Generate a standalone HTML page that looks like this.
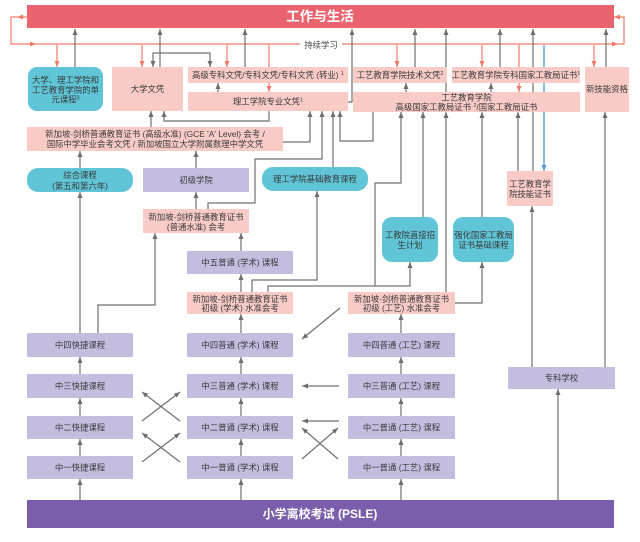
<!DOCTYPE html>
<html><head><meta charset="utf-8">
<style>
html,body{margin:0;padding:0;background:#fff;}
svg{display:block;}
text{font-family:"Liberation Sans","Noto Sans CJK SC",sans-serif;font-size:8.4px;fill:#3a3a3a;text-anchor:middle;}
.w{fill:#fff;font-weight:bold;}
.gl path{stroke:#707070;stroke-width:1.2;fill:none;}
.ol path{stroke:#f27a6a;stroke-width:1.2;fill:none;}
.pk{fill:#f9cbc7;}
.tl{fill:#5fc5d7;}
.pu{fill:#c5bde0;}
</style></head><body>
<svg width="640" height="542" viewBox="0 0 640 542" xmlns="http://www.w3.org/2000/svg">
<defs>
<marker id="g" viewBox="0 0 12 10" refX="12" refY="5" markerWidth="6" markerHeight="5" markerUnits="userSpaceOnUse" orient="auto"><path d="M0,0L12,5L0,10z" fill="#6e6e6e"/></marker>
<marker id="o" viewBox="0 0 12 10" refX="12" refY="5" markerWidth="6" markerHeight="5" markerUnits="userSpaceOnUse" orient="auto"><path d="M0,0L12,5L0,10z" fill="#f27a6a"/></marker>
<marker id="b" viewBox="0 0 12 10" refX="12" refY="5" markerWidth="6" markerHeight="5" markerUnits="userSpaceOnUse" orient="auto"><path d="M0,0L12,5L0,10z" fill="#4a9ccb"/></marker>
</defs>

<!-- orange loop & continuing-learning line -->
<g class="ol">
<path d="M27,17 H11 V44 H300"/>
<path d="M342,44 H624 V17 H614"/>
<path d="M57,45 V67" marker-end="url(#o)"/>
<path d="M142,45 V67" marker-end="url(#o)"/>
<path d="M227,45 V67" marker-end="url(#o)"/>
<path d="M269,45 V92" marker-end="url(#o)"/>
<path d="M397,45 V67" marker-end="url(#o)"/>
<path d="M482,45 V67" marker-end="url(#o)"/>
<path d="M519,45 V92" marker-end="url(#o)"/>
<path d="M594,45 V67" marker-end="url(#o)"/>
</g>
<polygon points="17,17 23,14.5 23,19.5" fill="#f27a6a"/>
<polygon points="36,44 30,41.5 30,46.5" fill="#f27a6a"/>
<polygon points="618,44 612,41.5 612,46.5" fill="#f27a6a"/>
<polygon points="614,17 620,14.5 620,19.5" fill="#f27a6a"/>
<text x="321" y="48" style="fill:#444">持续学习</text>

<!-- grey connectors -->
<g class="gl">
<path d="M75,67 V29" marker-end="url(#g)"/>
<path d="M160,67 V29" marker-end="url(#g)"/>
<path d="M245,67 V29" marker-end="url(#g)"/>
<path d="M348,102 H352 V29" marker-end="url(#g)"/>
<path d="M415,67 V29" marker-end="url(#g)"/>
<path d="M446,92 V29" marker-end="url(#g)"/>
<path d="M500,67 V29" marker-end="url(#g)"/>
<path d="M533,171 V29" marker-end="url(#g)"/>
<path d="M606,67 V29" marker-end="url(#g)"/>
<path d="M218,92 V83" marker-end="url(#g)"/>
<path d="M406,92 V83" marker-end="url(#g)"/>
<path d="M491,92 V83" marker-end="url(#g)"/>
<path d="M181,53 H153 V67" marker-end="url(#g)"/>
<path d="M181,53 H210 V67" marker-end="url(#g)"/>
<path d="M151,127 V111" marker-end="url(#g)"/>
<path d="M269,111 V121 H164 V111" marker-end="url(#g)"/>
<path d="M283,142 H310 V111" marker-end="url(#g)"/>
<path d="M208,209 V203 H255 V159 H322 V111" marker-end="url(#g)"/>
<path d="M333,167 V111" marker-end="url(#g)"/>
<path d="M373,112 V141 H340 V111" marker-end="url(#g)"/>
<path d="M80,168 V151" marker-end="url(#g)"/>
<path d="M196,168 V151" marker-end="url(#g)"/>
<path d="M196,209 V192" marker-end="url(#g)"/>
<path d="M241,251 V233" marker-end="url(#g)"/>
<path d="M241,292 V274" marker-end="url(#g)"/>
<path d="M241,333 V314" marker-end="url(#g)"/>
<path d="M80,333 V192" marker-end="url(#g)"/>
<path d="M98,333 V305 H155 V233" marker-end="url(#g)"/>
<path d="M252,292 V280 H317 V191" marker-end="url(#g)"/>
<path d="M268,292 V286 H410 V262" marker-end="url(#g)"/>
<path d="M375,286 V183 H401 V112" marker-end="url(#g)"/>
<path d="M423,217 V112" marker-end="url(#g)"/>
<path d="M446,292 V112" marker-end="url(#g)"/>
<path d="M482,217 V112" marker-end="url(#g)"/>
<path d="M455,303 H482 V262" marker-end="url(#g)"/>
<path d="M518,171 V112" marker-end="url(#g)"/>
<path d="M532,367 V206" marker-end="url(#g)"/>
<path d="M605,367 V112" marker-end="url(#g)"/>
<path d="M558,500 V389" marker-end="url(#g)"/>

<path d="M80,500 V479" marker-end="url(#g)"/>
<path d="M80,456 V439" marker-end="url(#g)"/>
<path d="M80,416 V398" marker-end="url(#g)"/>
<path d="M80,374 V357" marker-end="url(#g)"/>
<path d="M241,500 V479" marker-end="url(#g)"/>
<path d="M241,456 V439" marker-end="url(#g)"/>
<path d="M241,416 V398" marker-end="url(#g)"/>
<path d="M241,374 V357" marker-end="url(#g)"/>
<path d="M401,500 V479" marker-end="url(#g)"/>
<path d="M401,456 V439" marker-end="url(#g)"/>
<path d="M401,416 V398" marker-end="url(#g)"/>
<path d="M401,374 V357" marker-end="url(#g)"/>
<path d="M401,333 V314" marker-end="url(#g)"/>

<path d="M142,421 L180,392" marker-end="url(#g)"/>
<path d="M180,421 L142,392" marker-end="url(#g)"/>
<path d="M142,462 L180,433" marker-end="url(#g)"/>
<path d="M180,462 L142,433" marker-end="url(#g)"/>

<path d="M340,308 L302,339" marker-end="url(#g)"/>
<path d="M339,386 H302" marker-end="url(#g)"/>
<path d="M339,421 H302" marker-end="url(#g)"/>
<path d="M338,459 L302,428" marker-end="url(#g)"/>
<path d="M302,459 L338,428" marker-end="url(#g)"/>
</g>
<path d="M544,45 V171" stroke="#4a9ccb" stroke-width="1.3" fill="none" marker-end="url(#b)"/>

<!-- top bar -->
<rect x="27" y="5" width="587" height="23" fill="#ea6470"/>
<text x="320" y="21" class="w" style="font-size:13.5px">工作与生活</text>

<!-- row 1 boxes -->
<rect x="28" y="67" width="75" height="44" rx="9" class="tl"/>
<text x="65.5" y="83">大学、理工学院和</text>
<text x="65.5" y="93">工艺教育学院的单</text>
<text x="65.5" y="102.5">元课程<tspan font-size="5.5" dy="-3">3</tspan></text>

<rect x="112" y="67" width="71" height="44" class="pk"/>
<text x="147.5" y="92">大学文凭</text>

<rect x="188" y="67" width="160" height="16" class="pk"/>
<text x="268" y="78">高级专科文凭/专科文凭/专科文凭 (转业) <tspan font-size="5.5" dy="-3">1</tspan></text>

<rect x="188" y="92" width="160" height="19" class="pk"/>
<text x="268" y="104.5">理工学院专业文凭<tspan font-size="5.5" dy="-3">1</tspan></text>

<rect x="353" y="67" width="94" height="16" class="pk"/>
<text x="400" y="78">工艺教育学院技术文凭<tspan font-size="5.5" dy="-3">2</tspan></text>

<rect x="452" y="67" width="128" height="16" class="pk"/>
<text x="516" y="78">工艺教育学院专科国家工教局证书<tspan font-size="5.5" dy="-3">1</tspan></text>

<rect x="353" y="92" width="227" height="20" class="pk"/>
<text x="466.5" y="100.5">工艺教育学院</text>
<text x="466.5" y="110">高级国家工教局证书 <tspan font-size="5.5" dy="-3">2</tspan><tspan dy="3">/国家工教局证书</tspan></text>

<rect x="585" y="67" width="44" height="45" class="pk"/>
<text x="607" y="92">新技能资格</text>

<!-- A level -->
<rect x="27" y="127" width="256" height="24" class="pk"/>
<text x="155" y="137">新加坡-剑桥普通教育证书 (高级水准) (GCE 'A' Level) 会考 /</text>
<text x="155" y="147">国际中学毕业会考文凭 / 新加坡国立大学附属数理中学文凭</text>

<rect x="27" y="168" width="106" height="24" rx="11" class="tl"/>
<text x="80" y="178">综合课程</text>
<text x="80" y="189">(第五和第六年)</text>

<rect x="143" y="168" width="106" height="24" class="pu"/>
<text x="196" y="183">初级学院</text>

<rect x="262" y="167" width="106" height="24" rx="11" class="tl"/>
<text x="315" y="182">理工学院基础教育课程</text>

<rect x="143" y="209" width="106" height="24" class="pk"/>
<text x="196" y="220">新加坡-剑桥普通教育证书</text>
<text x="196" y="230">(普通水准) 会考</text>

<rect x="187" y="251" width="106" height="23" class="pu"/>
<text x="240" y="265.5">中五普通 (学术) 课程</text>

<rect x="187" y="292" width="106" height="22" class="pk"/>
<text x="240" y="302">新加坡-剑桥普通教育证书</text>
<text x="240" y="311">初级 (学术) 水准会考</text>

<rect x="348" y="292" width="107" height="22" class="pk"/>
<text x="401.5" y="302">新加坡-剑桥普通教育证书</text>
<text x="401.5" y="311">初级 (工艺) 水准会考</text>

<rect x="382" y="217" width="56" height="45" rx="10" class="tl"/>
<text x="410" y="238">工教院直接招</text>
<text x="410" y="248">生计划</text>

<rect x="453" y="217" width="61" height="45" rx="10" class="tl"/>
<text x="483.5" y="238">强化国家工教局</text>
<text x="483.5" y="248">证书基础课程</text>

<rect x="507" y="171" width="46" height="35" class="pk"/>
<text x="530" y="187">工艺教育学</text>
<text x="530" y="197">院技能证书</text>

<!-- secondary rows -->
<rect x="27" y="333" width="106" height="24" class="pu"/>
<text x="80" y="348">中四快捷课程</text>
<rect x="27" y="374" width="106" height="24" class="pu"/>
<text x="80" y="389">中三快捷课程</text>
<rect x="27" y="416" width="106" height="23" class="pu"/>
<text x="80" y="430.5">中二快捷课程</text>
<rect x="27" y="456" width="106" height="23" class="pu"/>
<text x="80" y="470.5">中一快捷课程</text>

<rect x="187" y="333" width="106" height="24" class="pu"/>
<text x="240" y="348">中四普通 (学术) 课程</text>
<rect x="187" y="374" width="106" height="24" class="pu"/>
<text x="240" y="389">中三普通 (学术) 课程</text>
<rect x="187" y="416" width="106" height="23" class="pu"/>
<text x="240" y="430.5">中二普通 (学术) 课程</text>
<rect x="187" y="456" width="106" height="23" class="pu"/>
<text x="240" y="470.5">中一普通 (学术) 课程</text>

<rect x="348" y="333" width="107" height="24" class="pu"/>
<text x="401.5" y="348">中四普通 (工艺) 课程</text>
<rect x="348" y="374" width="107" height="24" class="pu"/>
<text x="401.5" y="389">中三普通 (工艺) 课程</text>
<rect x="348" y="416" width="107" height="23" class="pu"/>
<text x="401.5" y="430.5">中二普通 (工艺) 课程</text>
<rect x="348" y="456" width="107" height="23" class="pu"/>
<text x="401.5" y="470.5">中一普通 (工艺) 课程</text>

<rect x="508" y="367" width="107" height="22" class="pu"/>
<text x="561.5" y="381">专科学校</text>

<!-- PSLE -->
<rect x="27" y="500" width="587" height="28" fill="#7a5dab"/>
<text x="320" y="518" class="w" style="font-size:12px">小学离校考试 (PSLE)</text>
</svg>
</body></html>
